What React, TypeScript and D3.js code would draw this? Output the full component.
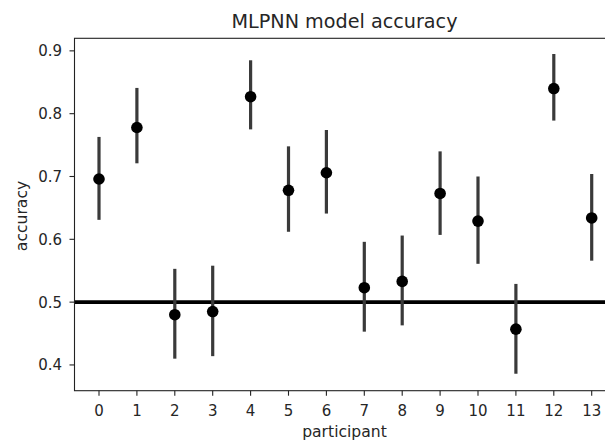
import React from "react";
import * as d3 from "d3";

const participants: number[] = [0, 1, 2, 3, 4, 5, 6, 7, 8, 9, 10, 11, 12, 13];
const accuracyMean: number[] = [0.696, 0.778, 0.480, 0.485, 0.827, 0.678, 0.706, 0.523, 0.533, 0.673, 0.629, 0.457, 0.840, 0.634];
const ciLow: number[] = [0.631, 0.721, 0.410, 0.414, 0.775, 0.612, 0.641, 0.453, 0.463, 0.607, 0.561, 0.386, 0.789, 0.566];
const ciHigh: number[] = [0.763, 0.841, 0.553, 0.558, 0.885, 0.748, 0.774, 0.596, 0.606, 0.740, 0.700, 0.529, 0.895, 0.704];
const yTicks: number[] = [0.4, 0.5, 0.6, 0.7, 0.8, 0.9];
const chanceLevel = 0.5;
const title = "MLPNN model accuracy";
const xLabel = "participant";
const yLabel = "accuracy";

const W = 605;
const H = 442;
const left = 74.5;
const top = 38.3;
const bottom = 390.7;
const xStep = 37.9;
const x0 = 99;

export default function App() {
  const xScale = d3
    .scaleLinear()
    .domain([0, 1])
    .range([x0, x0 + xStep]);
  const xMin = xScale.invert(left);
  const xMax = -xMin + (participants.length - 1);
  const right = xScale(xMax);
  const yScale = d3.scaleLinear().domain([0.359, 0.92]).range([bottom, top]);
  const font = "DejaVu Sans, sans-serif";
  const textColor = "#262626";
  const cx = 344.5;

  return (
    <svg
      width={W}
      height={H}
      style={{ position: "absolute", left: 0, top: 0, background: "#fff" }}
      fontFamily={font}
    >
      {/* chance line */}
      <line
        x1={left}
        x2={right}
        y1={yScale(chanceLevel)}
        y2={yScale(chanceLevel)}
        stroke="#000"
        strokeWidth={3.8}
      />
      {/* error bars */}
      {participants.map((p, i) => (
        <line
          key={"e" + p}
          x1={xScale(p)}
          x2={xScale(p)}
          y1={yScale(ciLow[i])}
          y2={yScale(ciHigh[i])}
          stroke="#3a3a3a"
          strokeWidth={3.2}
        />
      ))}
      {/* points */}
      {participants.map((p, i) => (
        <circle
          key={"p" + p}
          cx={xScale(p)}
          cy={yScale(accuracyMean[i])}
          r={5.8}
          fill="#000"
        />
      ))}
      {/* spines */}
      <rect
        x={left}
        y={top}
        width={right - left}
        height={bottom - top}
        fill="none"
        stroke="#222"
        strokeWidth={1.1}
      />
      {/* y ticks */}
      {yTicks.map((t) => (
        <g key={"y" + t}>
          <line
            x1={left - 5}
            x2={left}
            y1={yScale(t)}
            y2={yScale(t)}
            stroke="#222"
            strokeWidth={1.1}
          />
          <text
            x={left - 12.5}
            y={yScale(t)}
            dy="0.36em"
            textAnchor="end"
            fontSize={15}
            fill={textColor}
          >
            {t.toFixed(1)}
          </text>
        </g>
      ))}
      {/* x ticks */}
      {participants.map((p) => (
        <g key={"x" + p}>
          <line
            x1={xScale(p)}
            x2={xScale(p)}
            y1={bottom}
            y2={bottom + 5}
            stroke="#222"
            strokeWidth={1.1}
          />
          <text
            x={xScale(p)}
            y={416.3}
            textAnchor="middle"
            fontSize={15}
            fill={textColor}
          >
            {String(p)}
          </text>
        </g>
      ))}
      <text
        x={cx}
        y={28.3}
        textAnchor="middle"
        fontSize={19.2}
        fill={textColor}
      >
        {title}
      </text>
      <text
        x={cx}
        y={437}
        textAnchor="middle"
        fontSize={15.6}
        fill={textColor}
      >
        {xLabel}
      </text>
      <text
        transform={`translate(27, 216) rotate(-90)`}
        textAnchor="middle"
        fontSize={15.6}
        fill={textColor}
      >
        {yLabel}
      </text>
    </svg>
  );
}
